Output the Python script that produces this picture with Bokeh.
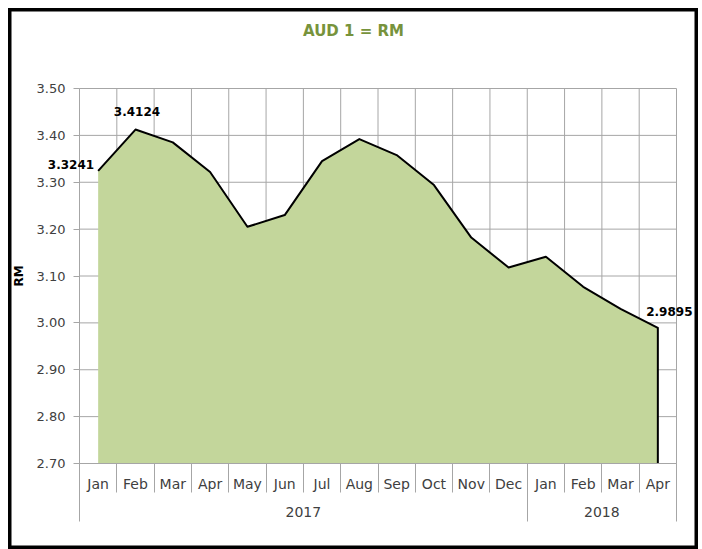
from bokeh.plotting import figure
from bokeh.models import (Range1d, FixedTicker, LinearAxis, Label,
                          CustomJSTickFormatter, NumeralTickFormatter)
from bokeh.embed import file_html
from bokeh.resources import INLINE

# ---------------- data ----------------
title_text = "AUD 1 = RM"
y_axis_title = "RM"
months = ["Jan", "Feb", "Mar", "Apr", "May", "Jun", "Jul", "Aug", "Sep", "Oct",
          "Nov", "Dec", "Jan", "Feb", "Mar", "Apr"]
years = ["2017", "2018"]
year_lengths = [12, 4]
rates = [3.3241, 3.4124, 3.385, 3.322, 3.205, 3.230, 3.345, 3.392, 3.358,
         3.294, 3.182, 3.118, 3.141, 3.077, 3.030, 2.9895]
y_ticks = [2.70, 2.80, 2.90, 3.00, 3.10, 3.20, 3.30, 3.40, 3.50]
labelled_points = [0, 1, 15]

# ---------------- layout (pixels) ----------------
W, H = 690, 541                 # whole chart (frame covers it all)
PL, PR, PT, PB = 71, 668, 80, 455   # inner plot area inside the chart, px

n = len(months)
xc = [i + 0.5 for i in range(n)]
boundaries = list(range(n + 1))
year_edges = [0]
for L in year_lengths:
    year_edges.append(year_edges[-1] + L)
year_centers = [(a + b) / 2 for a, b in zip(year_edges[:-1], year_edges[1:])]
ymin, ymax = y_ticks[0], y_ticks[-1]

xs = (PR - PL) / n                 # px per category
ys = (PB - PT) / (ymax - ymin)     # px per unit
x_range = Range1d(-PL / xs, n + (W - PR) / xs)
y_range = Range1d(ymin - (H - PB) / ys, ymax + PT / ys)

FONT = "DejaVu Sans"
GRID = "#a6a6a6"
TXT = "#404040"

p = figure(width=W, height=H, output_backend="svg", toolbar_location=None,
           x_range=x_range, y_range=y_range,
           x_axis_type=None, y_axis_type=None,
           min_border=0, min_border_left=0, min_border_right=0,
           min_border_top=0, min_border_bottom=0,
           background_fill_color="white", border_fill_color="white",
           margin=(8, 4, 0, 8))
p.outline_line_color = "black"
p.outline_line_width = 6
p.xgrid.visible = False
p.ygrid.visible = False

# grid lines of the plot area
p.segment(x0=boundaries, y0=[ymin] * len(boundaries),
          x1=boundaries, y1=[ymax] * len(boundaries),
          line_color=GRID, line_width=1)
p.segment(x0=[0] * len(y_ticks), y0=y_ticks, x1=[n] * len(y_ticks), y1=y_ticks,
          line_color=GRID, line_width=1)

# area and line
p.varea(x=xc, y1=[ymin] * n, y2=rates, fill_color="#C3D69B", fill_alpha=1.0)
p.line(x=xc + [xc[-1]], y=rates + [ymin], line_color="black", line_width=2,
       line_join="round")

# y axis
yax = LinearAxis(fixed_location=0, bounds=(ymin, ymax),
                 ticker=FixedTicker(ticks=y_ticks),
                 formatter=NumeralTickFormatter(format="0.00"),
                 axis_line_color=GRID, major_tick_line_color=GRID,
                 major_tick_out=6, major_tick_in=0,
                 minor_tick_line_color=None,
                 major_label_standoff=8,
                 major_label_text_font=FONT, major_label_text_font_size="13px",
                 major_label_text_color=TXT,
                 axis_label=y_axis_title, axis_label_text_font=FONT,
                 axis_label_text_font_size="12px",
                 axis_label_text_font_style="bold",
                 axis_label_text_color="black", axis_label_standoff=8)
p.add_layout(yax, "left")

# month axis
month_axis = LinearAxis(
    fixed_location=ymin, bounds=(0, n),
    ticker=FixedTicker(ticks=xc, minor_ticks=boundaries),
    formatter=CustomJSTickFormatter(args=dict(labels=months),
                                    code="return labels[Math.floor(tick)];"),
    axis_line_color=GRID, major_tick_line_color=None,
    major_tick_out=0, major_tick_in=0,
    minor_tick_line_color=GRID, minor_tick_out=29, minor_tick_in=0,
    major_label_standoff=-17,
    major_label_text_font=FONT, major_label_text_font_size="14px",
    major_label_text_color=TXT)
p.add_layout(month_axis, "below")

# year axis
year_axis = LinearAxis(
    fixed_location=ymin, bounds=(0, n),
    ticker=FixedTicker(ticks=year_centers, minor_ticks=year_edges),
    formatter=CustomJSTickFormatter(args=dict(labels=years, centers=year_centers),
                                    code="return labels[centers.indexOf(tick)];"),
    axis_line_color=None, major_tick_line_color=None,
    major_tick_out=0, major_tick_in=0,
    minor_tick_line_color=GRID, minor_tick_out=58, minor_tick_in=0,
    major_label_standoff=-15,
    major_label_text_font=FONT, major_label_text_font_size="14px",
    major_label_text_color=TXT)
p.add_layout(year_axis, "below")

# data labels
offsets = {0: (-4, 6, "right"), 1: (1.5, 18, "center"), 15: (11.5, 16, "center")}
for i in labelled_points:
    dx, dy, al = offsets[i]
    p.add_layout(Label(x=xc[i], y=rates[i], text=f"{rates[i]:.4f}",
                       x_offset=dx, y_offset=dy, text_align=al,
                       text_baseline="middle", text_font=FONT,
                       text_font_size="12px", text_font_style="bold",
                       text_color="black"))

# title
p.add_layout(Label(x=345, y=H - 22, x_units="screen", y_units="screen",
                   text=title_text, text_align="center", text_baseline="middle",
                   text_font=FONT, text_font_size="15px", text_font_style="bold",
                   text_color="#77933C"))

open("out.html", "w").write(file_html(p, INLINE))
